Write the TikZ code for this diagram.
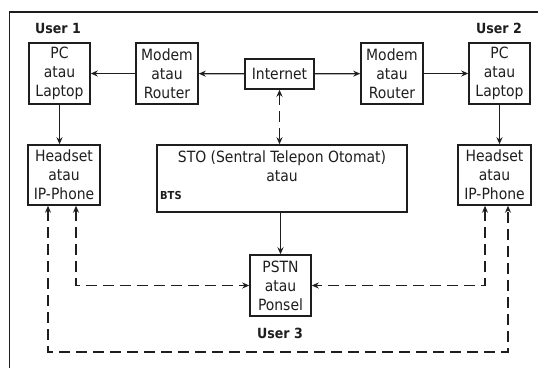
\documentclass[tikz,border=0pt]{standalone}
\usepackage{fontspec}
\setmainfont{DejaVu Sans Condensed}
\usetikzlibrary{arrows.meta}
\definecolor{ink}{HTML}{1E1E1E}
\begin{document}
\begin{tikzpicture}[x=1pt,y=-1pt,
  box/.style={draw=ink, line width=1.5pt, inner sep=0pt, align=center, text=ink,
    font=\fontsize{15.5}{19}\selectfont},
  txt/.style={inner sep=0pt, align=center, text=ink, font=\fontsize{15.5}{19}\selectfont},
  usr/.style={inner sep=0pt, text=ink, font=\fontsize{14}{16}\selectfont\bfseries},
  arr/.style={draw=ink, line width=1.2pt, -{Stealth[length=7pt,width=6pt]}},
  darr/.style={draw=ink, line width=1.2pt, dash pattern=on 11pt off 6pt,
    {Stealth[length=7pt,width=6pt]}-{Stealth[length=7pt,width=6pt]}}
]
\useasboundingbox (0,0) rectangle (538,368);
% partial frame
\draw[ink, line width=1.5pt] (9.5,368) -- (9.5,12) -- (538,12);

% nodes
\node[usr] (u1) at (58,28) {User 1};
\node[usr] (u2) at (499,28) {User 2};
\node[box, minimum width=61pt, minimum height=61pt] (pc1) at (59.5,73.5) {PC\\atau\\Laptop};
\node[box, minimum width=62pt, minimum height=61pt] (mo1) at (167,73.5) {Modem\\atau\\Router};
\node[box, minimum width=69pt, minimum height=30pt] (inet) at (279.5,74) {Internet};
\node[box, minimum width=62pt, minimum height=61pt] (mo2) at (392,73.5) {Modem\\atau\\Router};
\node[box, minimum width=61pt, minimum height=61pt] (pc2) at (499.5,73.5) {PC\\atau\\Laptop};
\node[box, minimum width=72pt, minimum height=60pt] (hs1) at (64,175) {Headset\\atau\\IP-Phone};
\node[box, minimum width=73pt, minimum height=60pt] (hs2) at (494.5,175) {Headset\\atau\\IP-Phone};
\node[box, minimum width=250pt, minimum height=67pt] (sto) at (282,178.5) {};
\node[txt] (stot) at (282,166.5) {STO (Sentral Telepon Otomat)\\atau};
\node[inner sep=0pt, anchor=west, text=ink, font=\fontsize{11}{12}\selectfont\bfseries] (bts) at (160,195) {BTS};
\node[box, minimum width=61pt, minimum height=61pt] (pstn) at (280.5,285.5) {PSTN\\atau\\Ponsel};
\node[usr] (u3) at (280,333) {User 3};

% solid arrows
\draw[arr] (mo1) -- (pc1);
\draw[arr] (inet) -- (mo1);
\draw[arr] (inet) -- (mo2);
\draw[arr] (mo2) -- (pc2);
\draw[arr] (pc1.south) -- (pc1.south |- hs1.north);
\draw[arr] (pc2.south) -- (pc2.south |- hs2.north);
\draw[arr] (sto.south -| pstn.north) -- (pstn.north);

% dashed arrows
\draw[darr] (inet.south) -- (inet.south |- sto.north);
\coordinate (a1) at ([xshift=12pt]hs1.south);
\coordinate (a2) at ([xshift=-9.5pt]hs2.south);
\coordinate (b1) at ([xshift=-16pt]hs1.south);
\coordinate (b2) at ([xshift=13.5pt]hs2.south);
\coordinate (bot) at (0,352);
\draw[darr] (a1) |- (pstn.west);
\draw[darr] (a2) |- (pstn.east);
\draw[darr] (b1) -- (b1 |- bot) -- (b2 |- bot) -- (b2);
\end{tikzpicture}
\end{document}
